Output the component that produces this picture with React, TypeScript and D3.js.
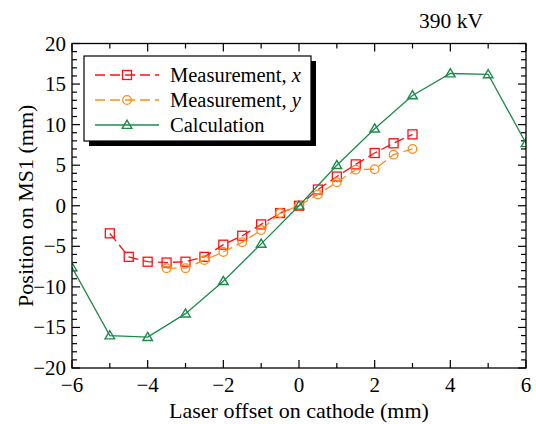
import React from 'react';
import * as d3 from 'd3';

const calcX = [-6, -5, -4, -3, -2, -1, 0, 1, 2, 3, 4, 5, 6];
const calcY = [-7.6, -16.0, -16.2, -13.3, -9.3, -4.7, 0, 5.0, 9.5, 13.6, 16.3, 16.2, 7.7];

const measX = [-5, -4.5, -4, -3.5, -3, -2.5, -2, -1.5, -1, -0.5, 0, 0.5, 1, 1.5, 2, 2.5, 3];
const measXY = [-3.4, -6.3, -6.9, -7.0, -6.9, -6.3, -4.8, -3.7, -2.3, -0.9, 0, 2.0, 3.6, 5.1, 6.5, 7.7, 8.8];

const measYX = [-3.5, -3, -2.5, -2, -1.5, -1, -0.5, 0, 0.5, 1, 1.5, 2, 2.5, 3];
const measYY = [-7.7, -7.7, -6.7, -5.7, -4.5, -3.0, -0.9, 0, 1.4, 2.9, 4.45, 4.5, 6.3, 7.0];

const xTicks = [-6, -4, -2, 0, 2, 4, 6];
const yTicks = [-20, -15, -10, -5, 0, 5, 10, 15, 20];

const RED = '#ff1010';
const ORANGE = '#ff8c1a';
const GREEN = '#1e8a4c';
const FONT = '"Liberation Serif", "Times New Roman", serif';

const W = 536;
const H = 424;
const m = { left: 72, right: 526, top: 43.5, bottom: 368 };

type Marker = 'square' | 'circle' | 'triangle';

function Mark({ kind, x, y, color }: { kind: Marker; x: number; y: number; color: string }) {
  if (kind === 'square') {
    return <rect x={x - 4.5} y={y - 4.5} width={9} height={9} fill="none" stroke={color} strokeWidth={1.3} />;
  }
  if (kind === 'circle') {
    return <circle cx={x} cy={y} r={4.3} fill="none" stroke={color} strokeWidth={1.3} />;
  }
  const s = 4.8;
  return (
    <path
      d={`M${x},${y - s}L${x + s},${y + s * 0.7}L${x - s},${y + s * 0.7}Z`}
      fill="none"
      stroke={color}
      strokeWidth={1.4}
    />
  );
}

export default function App() {
  const x = d3.scaleLinear().domain([-6, 6]).range([m.left, m.right]);
  const y = d3.scaleLinear().domain([-20, 20]).range([m.bottom, m.top]);
  const line = d3
    .line<[number, number]>()
    .x((d) => x(d[0]))
    .y((d) => y(d[1]));

  const series = [
    { xs: measX, ys: measXY, color: RED, dash: '10,5', marker: 'square' as Marker, label: 'Measurement, ', it: 'x' },
    { xs: measYX, ys: measYY, color: ORANGE, dash: '10,5', marker: 'circle' as Marker, label: 'Measurement, ', it: 'y' },
    { xs: calcX, ys: calcY, color: GREEN, dash: undefined, marker: 'triangle' as Marker, label: 'Calculation', it: '' },
  ];

  const xMinor = d3.range(-6, 6.01, 1);
  const yMinor = d3.range(-20, 20.01, 1);

  return (
    <svg width={W} height={H} style={{ position: 'absolute', left: 0, top: 0 }} fontFamily={FONT}>
      <rect width={W} height={H} fill="white" />
      <defs>
        <clipPath id="plot">
          <rect x={m.left} y={m.top} width={m.right - m.left} height={m.bottom - m.top} />
        </clipPath>
      </defs>

      {/* ticks on all four sides, inward */}
      <g stroke="#000" strokeWidth={1.2}>
        {xMinor.map((v) => {
          const len = v % 2 === 0 ? 8 : 5;
          return (
            <g key={'xt' + v}>
              <line x1={x(v)} x2={x(v)} y1={m.bottom} y2={m.bottom - len} />
              <line x1={x(v)} x2={x(v)} y1={m.top} y2={m.top + len} />
            </g>
          );
        })}
        {yMinor.map((v) => {
          const len = v % 5 === 0 ? 8 : 5;
          return (
            <g key={'yt' + v}>
              <line x1={m.left} x2={m.left + len} y1={y(v)} y2={y(v)} />
              <line x1={m.right} x2={m.right - len} y1={y(v)} y2={y(v)} />
            </g>
          );
        })}
      </g>

      {/* data */}
      <g clipPath="url(#plot)">
        {series.map((s, i) => {
          const pts = s.xs.map((v, j) => [v, s.ys[j]] as [number, number]);
          return (
            <g key={'s' + i}>
              <path d={line(pts) || ''} fill="none" stroke={s.color} strokeWidth={1.3} strokeDasharray={s.dash} />
              {pts.map((p, j) => (
                <Mark key={j} kind={s.marker} x={x(p[0])} y={y(p[1])} color={s.color} />
              ))}
            </g>
          );
        })}
      </g>

      {/* frame */}
      <rect
        x={m.left}
        y={m.top}
        width={m.right - m.left}
        height={m.bottom - m.top}
        fill="none"
        stroke="#000"
        strokeWidth={1.3}
      />

      {/* tick labels */}
      <g fontSize={21} fill="#000">
        {xTicks.map((v) => (
          <text key={'xl' + v} x={x(v)} y={392} textAnchor="middle">
            {v < 0 ? '\u2212' + Math.abs(v) : v}
          </text>
        ))}
        {yTicks.map((v) => (
          <text key={'yl' + v} x={66} y={y(v) + 7} textAnchor="end">
            {v < 0 ? '\u2212' + Math.abs(v) : v}
          </text>
        ))}
      </g>

      {/* axis titles */}
      <text x={(m.left + m.right) / 2} y={418} textAnchor="middle" fontSize={22}>
        Laser offset on cathode (mm)
      </text>
      <text transform={`translate(33,${(m.top + m.bottom) / 2}) rotate(-90)`} textAnchor="middle" fontSize={22}>
        Position on MS1 (mm)
      </text>
      <text x={483} y={28} textAnchor="end" fontSize={21.5}>
        390 kV
      </text>

      {/* legend */}
      <rect x={89} y={61} width={227} height={85} fill="#000" />
      <rect x={84} y={56} width={227} height={85} fill="white" stroke="#000" strokeWidth={1.2} />
      {series.map((s, i) => {
        const ly = 75 + i * 25;
        return (
          <g key={'lg' + i}>
            <line x1={95} x2={159} y1={ly} y2={ly} stroke={s.color} strokeWidth={1.3} strokeDasharray={s.dash} />
            <Mark kind={s.marker} x={127} y={ly} color={s.color} />
            <text x={170} y={ly + 6.5} fontSize={20.5}>
              {s.label}
              {s.it && <tspan fontStyle="italic">{s.it}</tspan>}
            </text>
          </g>
        );
      })}
    </svg>
  );
}
